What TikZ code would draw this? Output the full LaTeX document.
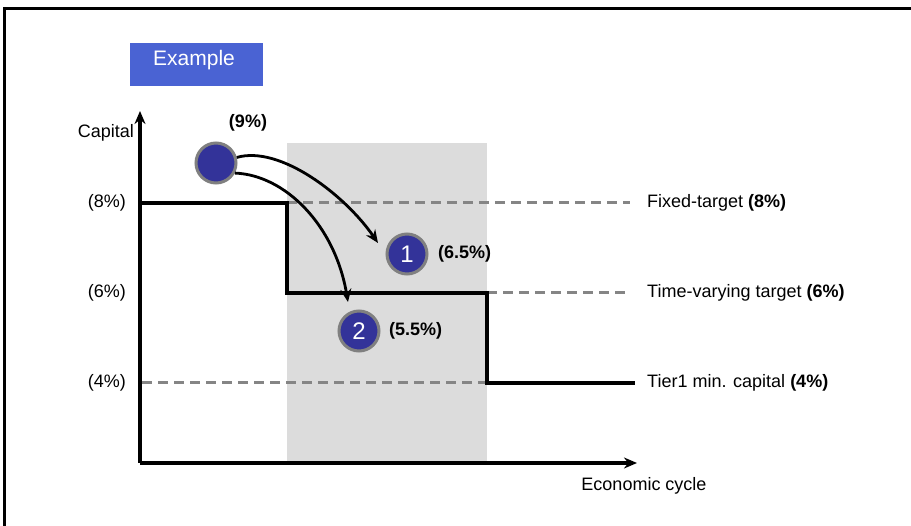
\documentclass[tikz,border=0pt]{standalone}
\usepackage{fontspec}
\setmainfont{Liberation Sans}
\usetikzlibrary{arrows.meta}
\definecolor{exblue}{HTML}{4A63D3}
\definecolor{dotblue}{HTML}{333399}
\definecolor{regiongray}{HTML}{DCDCDC}
\definecolor{dashgray}{HTML}{858585}
\tikzset{
  lbl/.style={font=\fontsize{18}{20}\selectfont, inner sep=0pt},
  axisline/.style={line width=3.2pt, -{Stealth[length=13pt,width=11pt]}},
  stepline/.style={line width=3.2pt},
  dashline/.style={line width=3pt, dashgray, dash pattern=on 10pt off 6pt},
  dot/.style={circle, fill=dotblue, draw=gray, line width=3pt, minimum size=40pt, inner sep=0pt, text=white, font=\fontsize{24}{26}\selectfont},
  curvearrow/.style={line width=2.8pt, -{Stealth[length=13pt,width=11pt]}}
}
\begin{document}
\begin{tikzpicture}[x=1pt,y=-1pt]
\useasboundingbox (0,0) rectangle (911,526);
\fill[white] (0,0) rectangle (911,526);
% frame
\draw[line width=3pt] (4,527) -- (4,9) -- (912,9);
% Example box
\node[fill=exblue, minimum width=133pt, minimum height=43pt, inner sep=0pt] (exbox) at (196.5,64.5) {};
\node[text=white, font=\fontsize{21}{24}\selectfont, inner sep=0pt] (extext) at (194,60) {Example};
% shaded region
\fill[regiongray] (287,143) rectangle (487,463);
% axes
\coordinate (origin) at (140,463);
\coordinate (ytip) at (140,111);
\coordinate (xtip) at (637,463);
\draw[axisline] (origin) -- (ytip);
\draw[axisline] (origin) -- (xtip);
% dashed lines
\coordinate (d8a) at (287,203); \coordinate (d8b) at (630,203);
\coordinate (d6a) at (487,293); \coordinate (d6b) at (630,293);
\coordinate (d4a) at (142,383); \coordinate (d4b) at (487,383);
\draw[dashline] (d8a) -- (d8b);
\draw[dashline] (d6a) -- (d6b);
\draw[dashline] (d4a) -- (d4b);
% step line
\coordinate (s0) at (140,203);
\coordinate (s5) at (635,383);
\draw[stepline] (s0) -- (287,203) -- (287,293) -- (487,293) -- (487,383) -- (s5);
% left labels
\node[lbl, anchor=east] (cap) at (134,133) {Capital};
\node[lbl, anchor=east] (l8) at (126,203) {(8\%)};
\node[lbl, anchor=east] (l6) at (126,293) {(6\%)};
\node[lbl, anchor=east] (l4) at (126,383) {(4\%)};
% right labels
\node[lbl, anchor=west] (r8) at (647,203) {Fixed-target \textbf{(8\%)}};
\node[lbl, anchor=west] (r6) at (647,293) {Time-varying target \textbf{(6\%)}};
\node[lbl, anchor=west] (r4) at (647,383) {Tier1 min. capital \textbf{(4\%)}};
\node[lbl] (econ) at (644,486) {Economic cycle};
% dots
\node[dot] (c0) at (216,163) {};
\node[dot] (c1) at (407,254) {1};
\node[dot] (c2) at (359,331) {2};
\node[lbl, font=\fontsize{18}{20}\selectfont\bfseries] (p9) at (248,123) {(9\%)};
\node[lbl, font=\fontsize{18}{20}\selectfont\bfseries, anchor=west] (p65) at (438,254) {(6.5\%)};
\node[lbl, font=\fontsize{18}{20}\selectfont\bfseries, anchor=west] (p55) at (389,331) {(5.5\%)};
% arrows
\coordinate (a1) at (378,243);
\coordinate (a2) at (348,302);
\draw[curvearrow] (c0.15) .. controls (280,145) and (345,195) .. (a1);
\draw[curvearrow] (c0.-28) .. controls (285,175) and (335,225) .. (a2);
\end{tikzpicture}
\end{document}
